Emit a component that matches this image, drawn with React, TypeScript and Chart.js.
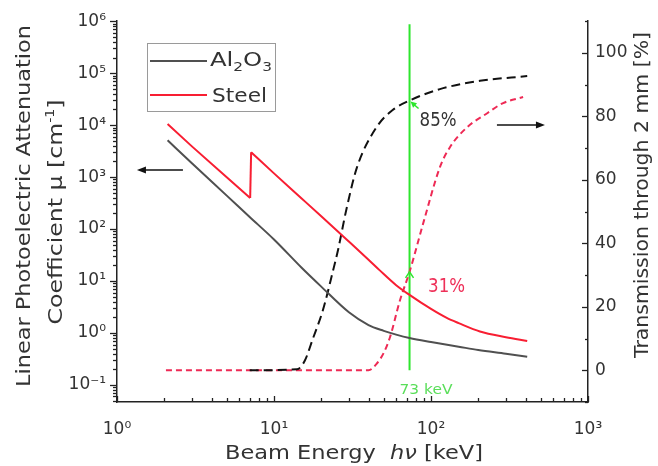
import React, { useEffect, useRef } from 'react';
import { Chart, registerables } from 'chart.js';

Chart.register(...registerables);

const FONT = 'DejaVu Sans';

// ---- data ----
// Photoelectric attenuation coefficient mu [cm^-1] vs beam energy [keV]
const AL2O3_ENERGY = [2.1, 3, 5, 7, 10, 15, 20, 30, 40, 50, 60, 73, 100, 150, 200, 300, 410];
const AL2O3_MU = [5100, 1840, 440, 171, 63, 18, 7.8, 2.5, 1.42, 1.1, 0.93, 0.8, 0.67, 0.545, 0.47, 0.4, 0.35];

const STEEL_ENERGY = [2.1, 3, 5, 7.05, 7.15, 10, 15, 20, 29, 40, 47, 60, 73, 100, 126, 150, 205, 300, 410];
const STEEL_MU = [10500, 3900, 990, 395, 3000, 1180, 388, 176, 63, 25.7, 16.2, 8.3, 5.4, 2.9, 1.95, 1.55, 1.07, 0.83, 0.7];
const STEEL_EDGE_INDEX = 4; // first point after the K-edge jump

// Transmission through 2 mm [%]
const AL2O3_T_ENERGY = [7, 14, 15.7, 17.7, 20.5, 23.8, 25.6, 29, 33.8, 45, 57, 73, 114, 205, 410];
const AL2O3_T = [0, 0.3, 3, 10, 19, 31.5, 38, 51, 64, 76.6, 82, 85, 88.6, 91.2, 92.7];

const STEEL_T_ENERGY = [2.05, 40, 45, 50, 54.8, 63.4, 73, 90, 114, 132, 170, 228, 288, 386];
const STEEL_T = [0, 0, 2, 5.5, 10.4, 22, 31, 47, 64, 70.3, 76.6, 81, 84.2, 86.1];

// 73 keV marker line
const MARKER_ENERGY = 73;
const MARKER_T = [0, 109];

// axis ranges / ticks
const X_MIN = 1, X_MAX = 1000;
const MU_MIN = 0.047, MU_MAX = 1e6;
const T_MIN = -10, T_MAX = 110, T_STEP = 10;
const T_LABELS = [0, 20, 40, 60, 80, 100];

// annotation anchors (data units)
const LABEL_85 = { e: 111, t: 79, text: '85%' };
const LABEL_31 = { e: 125.6, t: 26.7, text: '31%' };
const LABEL_KEV = { e: 93, t: -6, text: '73 keV' };
const ARROW_LEFT = { fromE: 2.63, toE: 1.34, mu: 1365 };
const ARROW_RIGHT = { fromE: 263, toE: 532, t: 77.3 };

// colours
const AXIS_COLOR = '#222222';
const TEXT_COLOR = '#333333';
const GRAY = '#505050';
const RED = '#f81e32';
const RED_DASH = '#ee2a55';
const BLACK_DASH = '#111111';
const GREEN = '#2ee62e';

const SUP: Record<string, string> = {
  '-': '\u207B', '0': '\u2070', '1': '\u00B9', '2': '\u00B2', '3': '\u00B3',
  '4': '\u2074', '5': '\u2075', '6': '\u2076', '7': '\u2077', '8': '\u2078', '9': '\u2079',
};

function isPow10(v: number) {
  const e = Math.log10(v);
  return Math.abs(e - Math.round(e)) < 1e-6;
}
function powLabel(v: number) {
  if (!isPow10(v)) return '';
  const r = Math.round(Math.log10(v));
  return '10' + String(r).split('').map((c) => SUP[c]).join('');
}
function logValues(min: number, max: number) {
  const out: number[] = [];
  const lo = Math.floor(Math.log10(min));
  const hi = Math.ceil(Math.log10(max));
  for (let e = lo; e <= hi; e++) {
    for (let m = 1; m <= 9; m++) {
      const v = parseFloat((m * Math.pow(10, e)).toPrecision(6));
      if (v >= min * 0.9999 && v <= max * 1.0001) out.push(v);
    }
  }
  return out;
}
const X_TICKS = logValues(X_MIN, X_MAX);
const MU_TICKS = logValues(MU_MIN, MU_MAX);
const T_TICKS: number[] = [];
for (let v = T_MIN; v <= T_MAX; v += T_STEP) T_TICKS.push(v);

type Part = { t: string; k?: 'sup' | 'sub' | 'it' };
function drawRich(
  ctx: CanvasRenderingContext2D,
  parts: Part[],
  cx: number,
  cy: number,
  size: number,
  color: string,
  opts: { width?: number; rot?: number; align?: 'center' | 'left' } = {}
) {
  const fontFor = (k?: string) =>
    k === 'sup' || k === 'sub'
      ? `${Math.round(size * 0.62)}px "${FONT}"`
      : k === 'it'
      ? `italic ${size}px "${FONT}"`
      : `${size}px "${FONT}"`;
  ctx.save();
  let W = 0;
  const ws = parts.map((p) => {
    ctx.font = fontFor(p.k);
    const w = ctx.measureText(p.t).width;
    W += w;
    return w;
  });
  const sx = opts.width ? opts.width / W : 1;
  ctx.translate(cx, cy);
  if (opts.rot) ctx.rotate(opts.rot);
  ctx.scale(sx, 1);
  ctx.fillStyle = color;
  ctx.textBaseline = 'alphabetic';
  ctx.textAlign = 'left';
  let x = opts.align === 'left' ? 0 : -W / 2;
  const base = size * 0.3645;
  parts.forEach((p, i) => {
    ctx.font = fontFor(p.k);
    const dy = p.k === 'sup' ? -size * 0.42 : p.k === 'sub' ? size * 0.27 : 0;
    ctx.fillText(p.t, x, base + dy);
    x += ws[i];
  });
  ctx.restore();
}

function arrow(ctx: CanvasRenderingContext2D, x0: number, y0: number, x1: number, y1: number, color: string, head = 9, half = 3.5, lw = 1.5) {
  const a = Math.atan2(y1 - y0, x1 - x0);
  ctx.save();
  ctx.strokeStyle = color;
  ctx.fillStyle = color;
  ctx.lineWidth = lw;
  ctx.beginPath();
  ctx.moveTo(x0, y0);
  ctx.lineTo(x1 - Math.cos(a) * head * 0.8, y1 - Math.sin(a) * head * 0.8);
  ctx.stroke();
  ctx.beginPath();
  ctx.moveTo(x1, y1);
  ctx.lineTo(x1 - Math.cos(a) * head + Math.sin(a) * half, y1 - Math.sin(a) * head - Math.cos(a) * half);
  ctx.lineTo(x1 - Math.cos(a) * head - Math.sin(a) * half, y1 - Math.sin(a) * head + Math.cos(a) * half);
  ctx.closePath();
  ctx.fill();
  ctx.restore();
}

const decorPlugin = {
  id: 'decor',
  afterDraw(chart: any) {
    const { ctx, chartArea: ca, scales } = chart;
    const sx = scales.x, sy = scales.y, sy2 = scales.y2;
    ctx.save();
    ctx.strokeStyle = AXIS_COLOR;
    ctx.lineWidth = 1.3;
    // left ticks (outside)
    for (const v of MU_TICKS) {
      const p = Math.round(sy.getPixelForValue(v)) + 0.5;
      const len = isPow10(v) ? 7 : 4;
      ctx.beginPath();
      ctx.moveTo(ca.left, p);
      ctx.lineTo(ca.left - len, p);
      ctx.stroke();
    }
    // bottom ticks (inside)
    for (const v of X_TICKS) {
      const p = Math.round(sx.getPixelForValue(v)) + 0.5;
      const len = isPow10(v) ? 6 : 4;
      ctx.beginPath();
      ctx.moveTo(p, ca.bottom);
      ctx.lineTo(p, ca.bottom - len);
      ctx.stroke();
    }
    // right ticks (inside)
    for (const v of T_TICKS) {
      const p = Math.round(sy2.getPixelForValue(v)) + 0.5;
      const len = v % 20 === 0 ? 6 : 3;
      ctx.beginPath();
      ctx.moveTo(ca.right, p);
      ctx.lineTo(ca.right - len, p);
      ctx.stroke();
    }
    ctx.restore();

    // axis titles
    drawRich(ctx, [{ t: 'Linear Photoelectric Attenuation' }], 23, 206, 20, TEXT_COLOR, { width: 362, rot: -Math.PI / 2 });
    drawRich(ctx, [{ t: 'Coefficient \u03BC [cm' }, { t: '-1', k: 'sup' }, { t: ']' }], 55, 212, 20, TEXT_COLOR, { width: 225, rot: -Math.PI / 2 });
    drawRich(ctx, [{ t: 'Transmission through 2 mm [%]' }], 641, 195, 20, TEXT_COLOR, { width: 326, rot: -Math.PI / 2 });
    drawRich(ctx, [{ t: 'Beam Energy  ' }, { t: 'h\u03BD', k: 'it' }, { t: ' [keV]' }], 354, 452, 20, TEXT_COLOR, { width: 258 });

    // legend
    ctx.save();
    ctx.strokeStyle = '#9a9a9a';
    ctx.lineWidth = 1;
    ctx.strokeRect(147.5, 43.5, 128, 68);
    ctx.lineWidth = 2;
    ctx.strokeStyle = GRAY;
    ctx.beginPath();
    ctx.moveTo(150, 61);
    ctx.lineTo(207, 61);
    ctx.stroke();
    ctx.strokeStyle = RED;
    ctx.beginPath();
    ctx.moveTo(150, 95);
    ctx.lineTo(207, 95);
    ctx.stroke();
    ctx.restore();
    drawRich(ctx, [{ t: 'Al' }, { t: '2', k: 'sub' }, { t: 'O' }, { t: '3', k: 'sub' }], 210, 59, 19, TEXT_COLOR, { width: 62, align: 'left' });
    drawRich(ctx, [{ t: 'Steel' }], 212, 95, 19, TEXT_COLOR, { width: 55, align: 'left' });

    // annotations
    const px = (e: number) => sx.getPixelForValue(e);
    drawRich(ctx, [{ t: LABEL_85.text }], px(LABEL_85.e), sy2.getPixelForValue(LABEL_85.t), 19, TEXT_COLOR, { width: 37 });
    drawRich(ctx, [{ t: LABEL_31.text }], px(LABEL_31.e), sy2.getPixelForValue(LABEL_31.t), 19, '#ee3058', { width: 37 });
    drawRich(ctx, [{ t: LABEL_KEV.text }], px(LABEL_KEV.e), sy2.getPixelForValue(LABEL_KEV.t), 14, '#5ade5a', { width: 53 });

    arrow(ctx, px(ARROW_LEFT.fromE), sy.getPixelForValue(ARROW_LEFT.mu), px(ARROW_LEFT.toE), sy.getPixelForValue(ARROW_LEFT.mu), '#111');
    arrow(ctx, px(ARROW_RIGHT.fromE), sy2.getPixelForValue(ARROW_RIGHT.t), px(ARROW_RIGHT.toE), sy2.getPixelForValue(ARROW_RIGHT.t), '#111');

    // small green pointers at the intersections
    const gx = px(MARKER_ENERGY);
    const g85 = sy2.getPixelForValue(85);
    arrow(ctx, gx + 9, g85 + 8, gx + 1, g85 + 1, GREEN, 6, 3, 1.5);
    const g31 = sy2.getPixelForValue(31);
    ctx.save();
    ctx.strokeStyle = GREEN;
    ctx.lineWidth = 1.5;
    ctx.beginPath();
    ctx.moveTo(gx - 4, g31 + 6);
    ctx.lineTo(gx, g31);
    ctx.lineTo(gx + 4, g31 + 6);
    ctx.stroke();
    ctx.restore();
  },
};

function pts(xs: number[], ys: number[]) {
  return xs.map((x, i) => ({ x, y: ys[i] }));
}

export default function App() {
  const ref = useRef<HTMLCanvasElement>(null);
  useEffect(() => {
    if (!ref.current) return;
    Chart.defaults.font.family = FONT;
    const base = { showLine: true, pointRadius: 0, borderWidth: 2, fill: false };
    const setTicks = (vals: number[]) => (s: any) => {
      s.ticks = vals.map((value) => ({ value }));
    };
    const chart = new Chart(ref.current, {
      type: 'scatter',
      data: {
        datasets: [
          {
            ...base,
            label: 'Al2O3',
            data: pts(AL2O3_ENERGY, AL2O3_MU),
            borderColor: GRAY,
            cubicInterpolationMode: 'monotone',
            yAxisID: 'y',
          },
          {
            ...base,
            label: 'Steel',
            data: pts(STEEL_ENERGY.slice(0, STEEL_EDGE_INDEX), STEEL_MU.slice(0, STEEL_EDGE_INDEX)),
            borderColor: RED,
            yAxisID: 'y',
          },
          {
            ...base,
            label: 'Steel edge',
            data: pts(STEEL_ENERGY.slice(STEEL_EDGE_INDEX - 1, STEEL_EDGE_INDEX + 1), STEEL_MU.slice(STEEL_EDGE_INDEX - 1, STEEL_EDGE_INDEX + 1)),
            borderColor: RED,
            yAxisID: 'y',
          },
          {
            ...base,
            label: 'Steel high',
            data: pts(STEEL_ENERGY.slice(STEEL_EDGE_INDEX), STEEL_MU.slice(STEEL_EDGE_INDEX)),
            borderColor: RED,
            cubicInterpolationMode: 'monotone',
            yAxisID: 'y',
          },
          {
            ...base,
            label: 'Al2O3 T',
            data: pts(AL2O3_T_ENERGY, AL2O3_T),
            borderColor: BLACK_DASH,
            borderDash: [9, 5],
            cubicInterpolationMode: 'monotone',
            yAxisID: 'y2',
          },
          {
            ...base,
            label: 'Steel T',
            data: pts(STEEL_T_ENERGY, STEEL_T),
            borderColor: RED_DASH,
            borderDash: [6, 4],
            cubicInterpolationMode: 'monotone',
            yAxisID: 'y2',
          },
          {
            ...base,
            label: '73 keV',
            data: MARKER_T.map((t) => ({ x: MARKER_ENERGY, y: t })),
            borderColor: GREEN,
            yAxisID: 'y2',
          },
        ],
      },
      options: {
        animation: false,
        responsive: false,
        maintainAspectRatio: false,
        events: [],
        layout: { padding: { top: 21, left: 0, right: 0, bottom: 0 } },
        plugins: { legend: { display: false }, tooltip: { enabled: false } },
        scales: {
          x: {
            type: 'logarithmic',
            position: 'bottom',
            min: X_MIN,
            max: X_MAX,
            afterBuildTicks: setTicks(X_TICKS),
            afterFit: (s: any) => {
              s.height = 64;
            },
            grid: { display: true, drawOnChartArea: false, drawTicks: false },
            border: { display: true, color: AXIS_COLOR, width: 1.5 },
            ticks: {
              autoSkip: false,
              maxRotation: 0,
              minRotation: 0,
              padding: 17,
              color: TEXT_COLOR,
              font: { family: FONT, size: 17 },
              callback: (v: any) => powLabel(Number(v)),
            },
          },
          y: {
            type: 'logarithmic',
            position: 'left',
            min: MU_MIN,
            max: MU_MAX,
            afterBuildTicks: setTicks(MU_TICKS),
            afterFit: (s: any) => {
              s.width = 117;
            },
            grid: { display: true, drawOnChartArea: false, drawTicks: false },
            border: { display: true, color: AXIS_COLOR, width: 1.5 },
            ticks: {
              autoSkip: false,
              padding: 11,
              color: TEXT_COLOR,
              font: { family: FONT, size: 17 },
              callback: (v: any) => powLabel(Number(v)),
            },
          },
          y2: {
            type: 'linear',
            position: 'right',
            min: T_MIN,
            max: T_MAX,
            afterFit: (s: any) => {
              s.width = 70;
            },
            grid: { display: true, drawOnChartArea: false, drawTicks: false },
            border: { display: true, color: AXIS_COLOR, width: 1.5 },
            ticks: {
              stepSize: T_STEP,
              autoSkip: false,
              padding: 7,
              color: TEXT_COLOR,
              font: { family: FONT, size: 17 },
              callback: (v: any) => (T_LABELS.includes(Number(v)) ? String(v) : ''),
            },
          },
        },
      },
      plugins: [decorPlugin],
    } as any);
    return () => chart.destroy();
  }, []);
  return (
    <div style={{ position: 'fixed', left: 0, top: 0, width: 658, height: 466, background: '#ffffff' }}>
      <canvas ref={ref} width={658} height={466} style={{ display: 'block', width: 658, height: 466 }} />
    </div>
  );
}
